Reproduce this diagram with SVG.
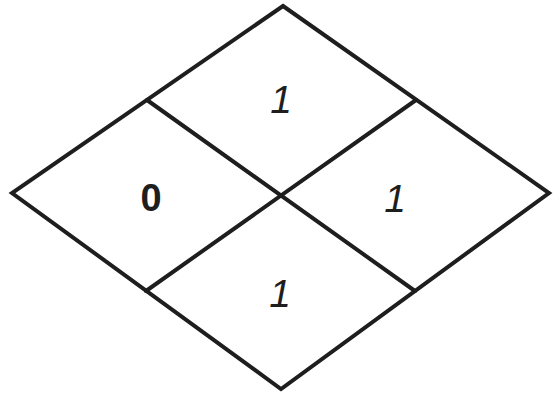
<svg xmlns="http://www.w3.org/2000/svg" width="555" height="396" viewBox="0 0 555 396">
<style>
.ln{fill:none;stroke:#1e1e1e;stroke-width:4;stroke-linejoin:miter;stroke-linecap:round}
.t{font-family:"Liberation Sans",Arial,sans-serif;font-size:38px;font-weight:bold;fill:#1e1e1e;text-anchor:middle}
.i{font-style:italic;font-weight:normal;font-size:39px}
</style>
<rect width="555" height="396" fill="#ffffff"/>
<g id="connectors">
<polygon class="ln" points="283,6 549,193 281,389 12,193"/>
<line class="ln" x1="147" y1="100" x2="415" y2="291"/>
<line class="ln" x1="416" y1="100" x2="146" y2="291"/>
</g>
<g id="cell-left"><text class="t" x="151" y="211">0</text></g>
<g id="cell-top"><text class="t i" x="281" y="113">1</text></g>
<g id="cell-right"><text class="t i" x="395" y="212">1</text></g>
<g id="cell-bottom"><text class="t i" x="280" y="307">1</text></g>
</svg>
